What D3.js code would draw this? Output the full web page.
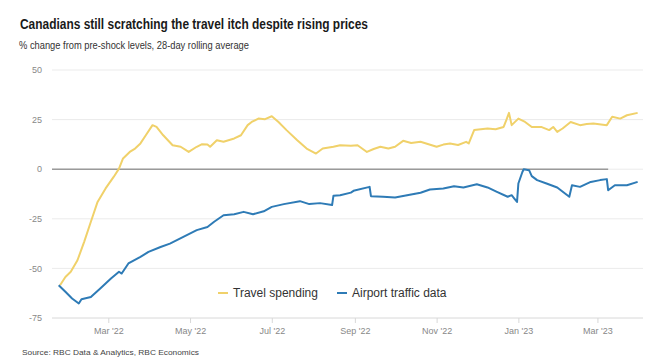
<!DOCTYPE html>
<html>
<head>
<meta charset="utf-8">
<script src="https://cdn.jsdelivr.net/npm/d3@7"></script>
<style>
  body { margin: 0; background: #fff; }
  text { font-family: "Liberation Sans", Arial, sans-serif; }
</style>
</head>
<body>
<div id="chart"></div>
<script>

// travel spending, % change from pre-shock levels
var spendDates = ["2022-01-24","2022-01-28","2022-02-01","2022-02-06","2022-02-11","2022-02-16","2022-02-21","2022-02-27",
    "2022-03-05","2022-03-09","2022-03-12","2022-03-17","2022-03-21","2022-03-25","2022-03-29","2022-04-03","2022-04-06",
    "2022-04-11","2022-04-18","2022-04-24","2022-04-30","2022-05-06","2022-05-10","2022-05-14","2022-05-16","2022-05-21",
    "2022-05-26","2022-06-03","2022-06-08","2022-06-13","2022-06-16","2022-06-21","2022-06-26","2022-07-01","2022-07-06",
    "2022-07-12","2022-07-20","2022-07-27","2022-08-03","2022-08-08","2022-08-16","2022-08-21","2022-08-29","2022-09-03",
    "2022-09-10","2022-09-15","2022-09-20","2022-09-26","2022-10-01","2022-10-07","2022-10-13","2022-10-20","2022-10-26",
    "2022-11-01","2022-11-06","2022-11-11","2022-11-17","2022-11-23","2022-11-25","2022-11-29","2022-12-09","2022-12-15",
    "2022-12-21","2022-12-23","2022-12-25","2022-12-27","2023-01-01","2023-01-06","2023-01-11","2023-01-18","2023-01-24",
    "2023-01-27","2023-01-30","2023-02-03","2023-02-09","2023-02-16","2023-02-21","2023-02-26","2023-03-08","2023-03-12",
    "2023-03-18","2023-03-23","2023-03-31"];
var spendValues = [-58.5,-54.3,-51.7,-45.9,-36.6,-26.5,-16.5,-9.7,
    -3.9,0.3,5.4,8.7,10.4,13,17.1,22.2,21.3,
    17.1,12.1,11.3,8.7,11.3,12.6,12.4,11.3,14.6,
    13.8,15.5,17.1,22.2,23.8,25.5,25.2,26.7,23.8,
    19.7,14.6,10.4,7.9,10.4,11.3,12.1,11.8,12.1,
    8.7,10.2,11.3,10.4,11.3,14.3,13.2,13.8,12.6,
    11.3,12.4,13,12.2,13.8,13,19.7,20.5,20.1,
    21.3,24.7,28.4,22.2,25.5,23.8,21.3,21.3,19.7,
    21.3,18.8,20.5,23.8,22.2,22.8,23,22.2,26.4,
    25.5,27.2,28.4];

// airport traffic data, % change from pre-shock levels
var airDates = ["2022-01-23","2022-01-28","2022-02-02","2022-02-07","2022-02-09","2022-02-16","2022-02-23","2022-03-03",
    "2022-03-09","2022-03-11","2022-03-16","2022-03-25","2022-03-31","2022-04-09","2022-04-16","2022-04-26","2022-05-06",
    "2022-05-14","2022-05-19","2022-05-26","2022-06-03","2022-06-10","2022-06-17","2022-06-25","2022-07-01","2022-07-10",
    "2022-07-22","2022-07-29","2022-08-06","2022-08-15","2022-08-16","2022-08-21","2022-08-29","2022-08-31","2022-09-12",
    "2022-09-13","2022-09-22","2022-10-01","2022-10-10","2022-10-20","2022-10-27","2022-11-06","2022-11-14","2022-11-21",
    "2022-12-01","2022-12-09","2022-12-16","2022-12-24","2022-12-27","2022-12-29","2022-12-31","2023-01-01","2023-01-04",
    "2023-01-05","2023-01-09","2023-01-11","2023-01-15","2023-01-22","2023-01-30","2023-02-08","2023-02-10","2023-02-16",
    "2023-02-24","2023-03-03","2023-03-08","2023-03-09","2023-03-14","2023-03-23","2023-03-31"];
var airValues = [-58.5,-61.8,-65.2,-67.7,-65.5,-64.4,-60.1,-55.1,
    -51.7,-52.6,-47.5,-44.2,-41.7,-39.2,-37.5,-34.1,-30.7,
    -29.1,-26.5,-23.2,-22.7,-21.5,-22.7,-21.2,-19,-17.6,
    -16.1,-17.6,-17.1,-18.1,-13.4,-13.1,-11.8,-10.9,-8.9,
    -13.6,-13.9,-14.3,-13.1,-11.9,-10.2,-9.7,-8.6,-9.2,
    -7.6,-9.2,-11.4,-13.9,-13.1,-14.8,-16.5,-7.2,-1.4,
    0,-0.5,-3.5,-5.5,-7.2,-9.2,-13.9,-8.1,-8.9,
    -6.4,-5.5,-5,-10.6,-8.1,-8.1,-6.4];

var seriesNames = ["Travel spending", "Airport traffic data"];
var seriesColors = ["#f0d16a", "#2e7bb6"];

var yTicks = [50, 25, 0, -25, -50, -75];
var xTickDates = ["2022-03-01","2022-05-01","2022-07-01","2022-09-01","2022-11-01","2023-01-01","2023-03-01"];
var xDomain = ["2022-01-18", "2023-04-04"];
var zeroLineEnd = "2023-03-09";

var parseDate = d3.timeParse("%Y-%m-%d");

var width = 650, height = 361;
var margin = { top: 70, right: 7, bottom: 43, left: 52 };
var innerW = width - margin.left - margin.right;
var innerH = height - margin.top - margin.bottom;

var svg = d3.select("#chart")
    .append("svg")
    .attr("width", width)
    .attr("height", height);

// titles
svg.append("text")
    .attr("x", 20)
    .attr("y", 29)
    .attr("textLength", 348)
    .attr("lengthAdjust", "spacingAndGlyphs")
    .style("font-size", "14px")
    .style("font-weight", "bold")
    .style("fill", "#1a1a1a")
    .text("Canadians still scratching the travel itch despite rising prices");

svg.append("text")
    .attr("x", 19)
    .attr("y", 49)
    .attr("textLength", 230)
    .attr("lengthAdjust", "spacingAndGlyphs")
    .style("font-size", "11px")
    .style("fill", "#333")
    .text("% change from pre-shock levels, 28-day rolling average");

svg.append("text")
    .attr("x", 22)
    .attr("y", 355)
    .attr("textLength", 177)
    .attr("lengthAdjust", "spacingAndGlyphs")
    .style("font-size", "8px")
    .style("fill", "#444")
    .text("Source: RBC Data & Analytics, RBC Economics");

var g = svg.append("g")
    .attr("transform", "translate(" + margin.left + "," + margin.top + ")");

var x = d3.scaleTime()
    .domain(xDomain.map(parseDate))
    .range([0, innerW]);

var y = d3.scaleLinear()
    .domain([-75, 50])
    .range([innerH, 0]);

// horizontal gridlines
g.selectAll(".grid")
    .data(yTicks)
    .enter().append("line")
    .attr("class", "grid")
    .attr("x1", 0)
    .attr("x2", innerW)
    .attr("y1", function (d) { return y(d); })
    .attr("y2", function (d) { return y(d); })
    .style("stroke", function (d) { return d == -75 ? "#d8d8d8" : "#ebebeb"; })
    .style("stroke-width", 1);

// y axis labels
g.selectAll(".ylab")
    .data(yTicks)
    .enter().append("text")
    .attr("class", "ylab")
    .attr("x", -10)
    .attr("y", function (d) { return y(d); })
    .attr("dy", "0.35em")
    .style("text-anchor", "end")
    .style("font-size", "9px")
    .style("fill", "#888")
    .text(function (d) { return d; });

// x axis
var xAxis = d3.axisBottom(x)
    .tickValues(xTickDates.map(parseDate))
    .tickFormat(d3.timeFormat("%b '%y"))
    .tickSize(5)
    .tickPadding(5);

var xg = g.append("g")
    .attr("transform", "translate(0," + innerH + ")")
    .call(xAxis);
xg.select(".domain").remove();
xg.selectAll(".tick line").style("stroke", "#d8d8d8");
xg.selectAll(".tick text")
    .style("font-size", "9px")
    .style("fill", "#888")
    .style("font-family", "Liberation Sans, Arial, sans-serif");

// zero line
g.append("line")
    .attr("x1", 0)
    .attr("x2", x(parseDate(zeroLineEnd)))
    .attr("y1", y(0))
    .attr("y2", y(0))
    .style("stroke", "#9a9a9a")
    .style("stroke-width", 1.5);

var line = d3.line()
    .x(function (d) { return x(d.date); })
    .y(function (d) { return y(d.value); });

var series = [
    spendDates.map(function (d, i) { return { date: parseDate(d), value: spendValues[i] }; }),
    airDates.map(function (d, i) { return { date: parseDate(d), value: airValues[i] }; })
];

g.selectAll(".series")
    .data(series)
    .enter().append("path")
    .attr("class", "series")
    .attr("d", line)
    .style("fill", "none")
    .style("stroke", function (d, i) { return seriesColors[i]; })
    .style("stroke-width", 2)
    .style("stroke-linejoin", "round");

// legend
var legendX = [218, 337];
var legend = svg.selectAll(".legend")
    .data(seriesNames)
    .enter().append("g")
    .attr("class", "legend")
    .attr("transform", function (d, i) { return "translate(" + legendX[i] + ",293)"; });

legend.append("line")
    .attr("x1", 0)
    .attr("x2", 10)
    .style("stroke", function (d, i) { return seriesColors[i]; })
    .style("stroke-width", 2);

legend.append("text")
    .attr("x", 15)
    .attr("dy", "0.35em")
    .style("font-size", "12px")
    .style("fill", "#333")
    .text(function (d) { return d; });

</script>
</body>
</html>
